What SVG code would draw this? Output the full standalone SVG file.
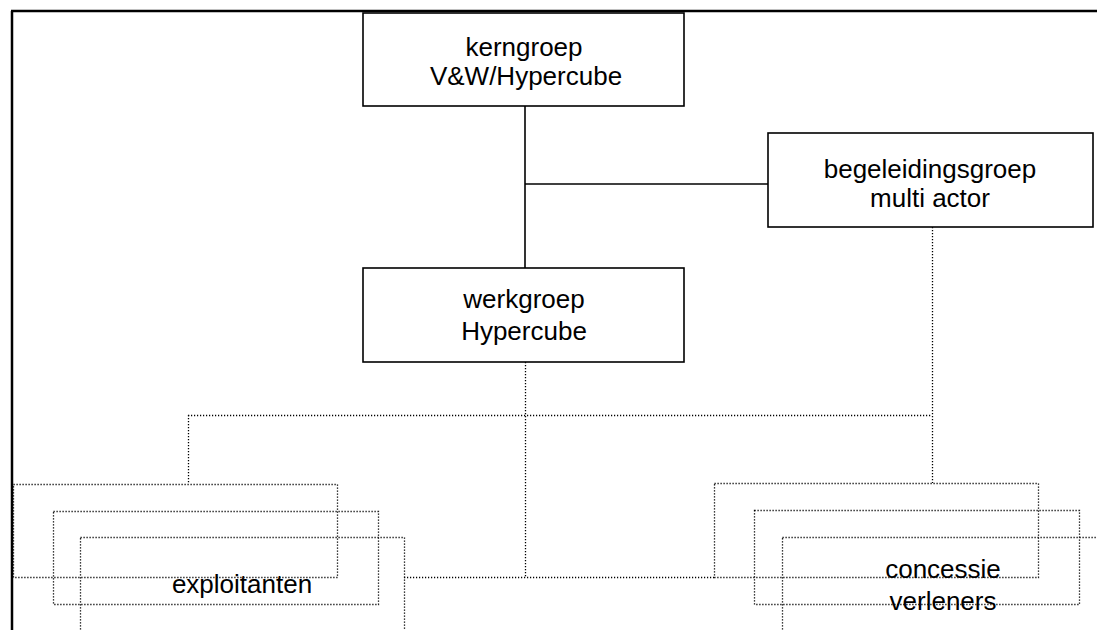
<svg xmlns="http://www.w3.org/2000/svg" width="1097" height="630" viewBox="0 0 1097 630">
<style>
.frame{stroke:#000;stroke-width:2.5;fill:none}
.box{fill:#fff;stroke:#000;stroke-width:1.6}
.dbox{fill:none;stroke:#000;stroke-width:1.3;stroke-dasharray:1.2 1.8}
.solid{stroke:#000;stroke-width:1.6;fill:none}
.dot{stroke:#000;stroke-width:1.3;stroke-dasharray:1.2 1.8;fill:none}
text{font-family:"Liberation Sans",Arial,sans-serif;font-size:26px;fill:#000;text-anchor:middle}
</style>
<rect width="1097" height="630" fill="#fff"/>
<g id="frame">
<line class="frame" x1="11" y1="11" x2="1097" y2="11"/>
<line class="frame" x1="12" y1="11" x2="12" y2="630"/>
</g>
<g id="connectors">
<line class="solid" x1="525" y1="106" x2="525" y2="268"/>
<line class="solid" x1="525" y1="184" x2="768" y2="184"/>
<line class="dot" x1="525.5" y1="362" x2="525.5" y2="577"/>
<line class="dot" x1="932.5" y1="227" x2="932.5" y2="483"/>
<line class="dot" x1="188" y1="415.5" x2="932" y2="415.5"/>
<line class="dot" x1="188.5" y1="415" x2="188.5" y2="484"/>
<line class="dot" x1="404" y1="577.5" x2="714" y2="577.5"/>
</g>
<g id="kerngroep">
<rect class="box" x="363" y="13" width="321" height="93"/>
<text x="524" y="56">kerngroep</text>
<text x="526" y="85">V&amp;W/Hypercube</text>
</g>
<g id="begeleidingsgroep">
<rect class="box" x="768" y="133" width="325" height="94"/>
<text x="930" y="178">begeleidingsgroep</text>
<text x="930" y="207">multi actor</text>
</g>
<g id="werkgroep">
<rect class="box" x="363" y="268" width="321" height="94"/>
<text x="524" y="308">werkgroep</text>
<text x="524" y="340">Hypercube</text>
</g>
<g id="exploitanten">
<rect class="dbox" x="13.5" y="484.5" width="324" height="93"/>
<rect class="dbox" x="53.5" y="511.5" width="325" height="93"/>
<rect class="dbox" x="80.5" y="537.5" width="324" height="100"/>
<text x="242" y="593">exploitanten</text>
</g>
<g id="concessieverleners">
<rect class="dbox" x="714.5" y="483.5" width="324" height="94"/>
<rect class="dbox" x="754.5" y="510.5" width="325" height="94"/>
<rect class="dbox" x="782.5" y="537.5" width="330" height="100"/>
<text x="943" y="578">concessie</text>
<text x="943" y="610">verleners</text>
</g>
</svg>
